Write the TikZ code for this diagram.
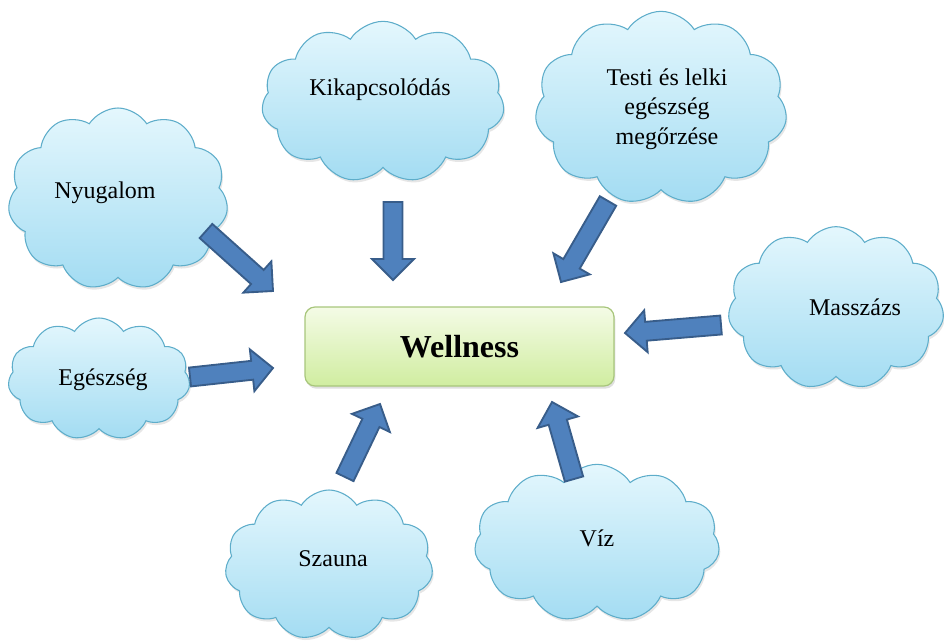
\documentclass[tikz,border=0pt]{standalone}
\usepackage{fontspec}
\setmainfont{Liberation Serif}
\usetikzlibrary{shapes.symbols,calc,shadows}

\definecolor{cloudtop}{HTML}{E4F7FD}
\definecolor{cloudbot}{HTML}{A3DCF2}
\definecolor{cloudline}{HTML}{5EADCA}
\definecolor{boxtop}{HTML}{F4FBE6}
\definecolor{boxbot}{HTML}{D0EDA0}
\definecolor{boxline}{HTML}{A8C67C}
\definecolor{arrfill}{HTML}{4F81BD}
\definecolor{arrline}{HTML}{385D8A}

\tikzset{
  cloudbox/.style={cloud, cloud puffs=11, cloud puff arc=115, cloud ignores aspect,
    draw=cloudline, line width=0.8pt, top color=cloudtop, bottom color=cloudbot,
    inner sep=0pt,
    drop shadow={shadow xshift=1pt, shadow yshift=-2pt, opacity=0.2, fill=gray}},
  cloudtext/.style={font=\fontsize{18}{22}\selectfont, align=center, text=black},
  centrebox/.style={draw=boxline, line width=0.9pt, rounded corners=7.5pt,
    top color=boxtop, bottom color=boxbot,
    font=\fontsize{24}{28}\selectfont\bfseries,
    drop shadow={shadow xshift=1pt, shadow yshift=-2pt, opacity=0.25, fill=gray}},
  blockarrow/.style={fill=arrfill, draw=arrline, line width=1.4pt, line join=miter},
}

% block arrow from tail coordinate #1 to tip coordinate #2
\newcommand\blockarr[2]{%
  \coordinate (hb) at ($(#2)!15.75pt!(#1)$);
  \draw[blockarrow]
    ($(#1)!7.1pt!90:(#2)$) -- ($(hb)!7.1pt!90:(#2)$) -- ($(hb)!15.75pt!90:(#2)$)
    -- (#2)
    -- ($(hb)!15.75pt!-90:(#2)$) -- ($(hb)!7.1pt!-90:(#2)$) -- ($(#1)!7.1pt!-90:(#2)$)
    -- cycle;
}

\begin{document}
\begin{tikzpicture}[x=0.75pt,y=-0.75pt]
  \useasboundingbox (0,0) rectangle (944,642);

  % clouds
  \node[cloudbox, minimum width=165pt, minimum height=136.5pt] (nyu) at (118,199) {};
  \node[cloudtext] (nyut) at (105,193) {Nyugalom};

  \node[cloudbox, minimum width=182pt, minimum height=121pt] (kik) at (383,102) {};
  \node[cloudtext] (kikt) at (380,90) {Kikapcsolódás};

  \node[cloudbox, minimum width=189pt, minimum height=145pt] (tes) at (661,108) {};
  \node[cloudtext] (test) at (667,109) {Testi és lelki\\egészség\\megőrzése};

  \node[cloudbox, minimum width=162pt, minimum height=122pt] (mas) at (836,308) {};
  \node[cloudtext] (mast) at (855,307) {Masszázs};

  \node[cloudbox, minimum width=136.5pt, minimum height=91.5pt] (ege) at (99,379) {};
  \node[cloudtext] (eget) at (103,380) {Egészség};

  \node[cloudbox, minimum width=156pt, minimum height=112.5pt] (sza) at (329,565) {};
  \node[cloudtext] (szat) at (333,559) {Szauna};

  \node[cloudbox, minimum width=184pt, minimum height=118pt] (viz) at (597,543) {};
  \node[cloudtext] (vizt) at (597,538) {Víz};

  % centre
  \node[centrebox, minimum width=231.75pt, minimum height=59.25pt] (well) at (459.5,346.5) {Wellness};

  % arrows
  \coordinate (a1t) at (206,231); \coordinate (a1h) at (273,291);
  \blockarr{a1t}{a1h}
  \coordinate (a2t) at (393,202); \coordinate (a2h) at (393,280);
  \blockarr{a2t}{a2h}
  \coordinate (a3t) at (608,201); \coordinate (a3h) at (561,282);
  \blockarr{a3t}{a3h}
  \coordinate (a4t) at (721,325); \coordinate (a4h) at (625,333);
  \blockarr{a4t}{a4h}
  \coordinate (a5t) at (190,377); \coordinate (a5h) at (273,368);
  \blockarr{a5t}{a5h}
  \coordinate (a6t) at (345,477); \coordinate (a6h) at (380,404);
  \blockarr{a6t}{a6h}
  \coordinate (a7t) at (574,479); \coordinate (a7h) at (552,402);
  \blockarr{a7t}{a7h}
\end{tikzpicture}
\end{document}
